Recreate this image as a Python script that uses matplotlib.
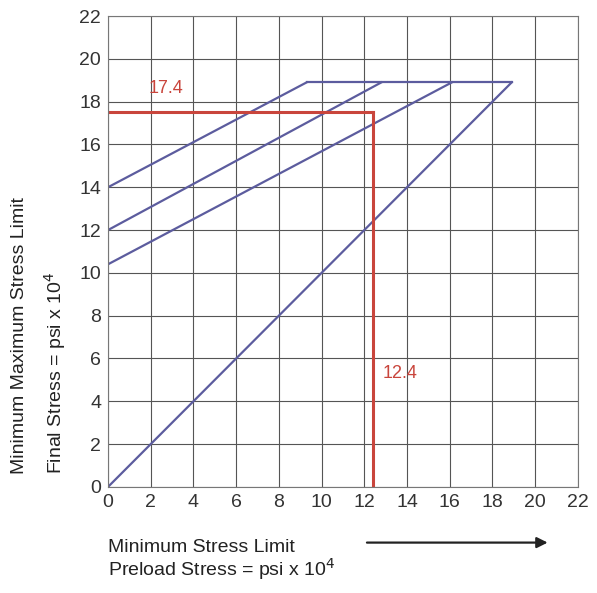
import matplotlib
matplotlib.use("Agg")
import matplotlib.pyplot as plt

plt.rcParams['font.family'] = ['Liberation Sans', 'DejaVu Sans']

# preload lines: start on the y axis, rise to the common top level
top_level = 18.9
preload_starts = [14.0, 12.0, 10.4]
preload_ends_x = [9.3, 12.8, 16.1]
diag_end = [18.9, 18.9]

# reading example
read_x = 12.4
read_y = 17.5
read_x_label = "12.4"
read_y_label = "17.4"

ticks = list(range(0, 23, 2))

blue = "#5c5c9e"
red = "#c9453c"

fig = plt.figure(figsize=(5.97, 5.93), dpi=100)
ax = fig.add_axes([0.181, 0.179, 0.787, 0.794])

# straight line from origin
ax.plot([0, diag_end[0]], [0, diag_end[1]], color=blue, lw=1.6)
for y0, x1 in zip(preload_starts, preload_ends_x):
    ax.plot([0, x1], [y0, top_level], color=blue, lw=1.6)
# top connecting line
ax.plot([min(preload_ends_x), diag_end[0]], [top_level, top_level], color=blue, lw=1.6)

ax.plot([0, read_x], [read_y, read_y], color=red, lw=2.2)
ax.plot([read_x, read_x], [0, read_y], color=red, lw=2.2)
ax.text(1.9, 18.2, read_y_label, color=red, fontsize=13, va="bottom")
ax.text(read_x + 0.45, 5.3, read_x_label, color=red, fontsize=13, va="center")

ax.set_xlim(0, 22)
ax.set_ylim(0, 22)
ax.set_xticks(ticks)
ax.set_yticks(ticks)
ax.grid(True, color="#555555", lw=0.8)
ax.set_axisbelow(True)
for s in ax.spines.values():
    s.set_color("#777777")
    s.set_linewidth(0.8)
ax.tick_params(length=0, labelsize=14, colors="#333333", pad=5)

fig.text(0.181, 0.018, "Minimum Stress Limit\nPreload Stress = psi x 10$^4$",
         fontsize=14, color="#222222", ha="left", va="bottom", linespacing=1.0)
fig.text(0.018, 0.435, "Minimum Maximum Stress Limit\nFinal Stress = psi x 10$^4$",
         fontsize=14, color="#222222", rotation=90, ha="left", va="center",
         linespacing=1.75, multialignment="left")
fig.add_artist(matplotlib.patches.FancyArrowPatch(
    (0.61, 0.085), (0.922, 0.085), transform=fig.transFigure,
    arrowstyle="-|>", mutation_scale=16, color="#222222", lw=1.6))

plt.savefig("out.png", dpi=100)
